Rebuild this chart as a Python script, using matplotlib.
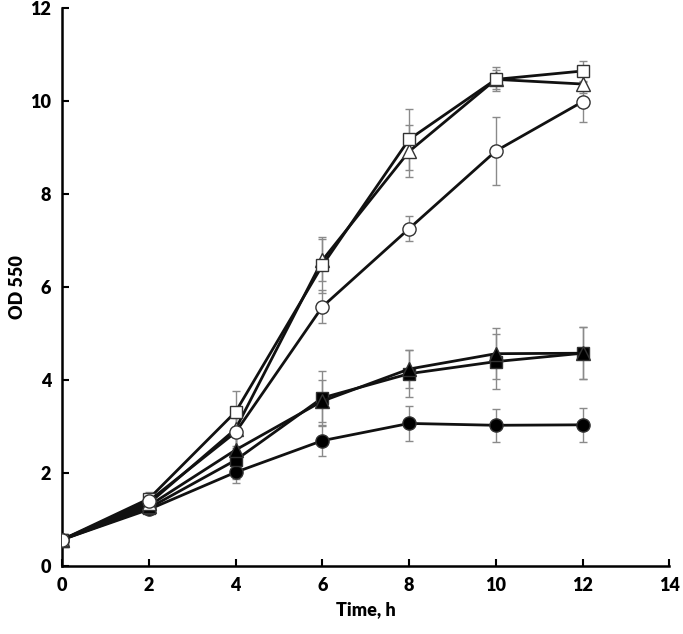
import matplotlib.pyplot as plt

time_h = [0, 2, 4, 6, 8, 10, 12]

# OD550 readings per strain/condition
open_sq = [0.57, 1.45, 3.32, 6.47, 9.18, 10.47, 10.65]
open_tri = [0.57, 1.35, 2.95, 6.58, 8.92, 10.47, 10.37]
open_circ = [0.57, 1.40, 2.88, 5.58, 7.26, 8.93, 9.99]
fill_sq = [0.57, 1.25, 2.28, 3.62, 4.14, 4.40, 4.58]
fill_tri = [0.57, 1.30, 2.50, 3.55, 4.24, 4.57, 4.58]
fill_circ = [0.57, 1.22, 2.02, 2.70, 3.07, 3.03, 3.04]

# standard deviations
err_open_sq = [0.05, 0.15, 0.45, 0.60, 0.65, 0.26, 0.22]
err_open_tri = [0.05, 0.12, 0.40, 0.45, 0.56, 0.20, 0.20]
err_open_circ = [0.05, 0.12, 0.30, 0.35, 0.27, 0.74, 0.43]
err_fill_sq = [0.05, 0.10, 0.50, 0.58, 0.50, 0.60, 0.56]
err_fill_tri = [0.05, 0.10, 0.45, 0.45, 0.40, 0.55, 0.56]
err_fill_circ = [0.05, 0.10, 0.15, 0.32, 0.38, 0.35, 0.36]

series = [
    (fill_circ, err_fill_circ, 'o', 'black'),
    (fill_sq, err_fill_sq, 's', 'black'),
    (fill_tri, err_fill_tri, '^', 'black'),
    (open_tri, err_open_tri, '^', 'white'),
    (open_sq, err_open_sq, 's', 'white'),
    (open_circ, err_open_circ, 'o', 'white'),
]

plt.rcParams['font.family'] = ['Lato', 'DejaVu Sans']
fig = plt.figure(figsize=(6.83, 6.34), dpi=100)
ax = fig.add_axes([0.091, 0.107, 0.889, 0.880])

for y, e, m, fc in series:
    ax.errorbar(time_h, y, yerr=e, fmt='none', ecolor='#8a8a8a', elinewidth=1,
                capsize=3, capthick=1, zorder=1)
for y, e, m, fc in series:
    ms = 9 if m == 's' else 9.5
    ax.plot(time_h, y, color='#111111', lw=2, marker=m, markersize=ms,
            markerfacecolor=fc, markeredgecolor='#333333', markeredgewidth=1,
            zorder=3)

ax.set_xlim(0, 14)
ax.set_ylim(0, 12)
ax.set_xticks(range(0, 15, 2))
ax.set_yticks(range(0, 13, 2))
ax.spines['top'].set_visible(False)
ax.spines['right'].set_visible(False)
ax.spines['left'].set_linewidth(1.8)
ax.spines['bottom'].set_linewidth(1.8)
ax.tick_params(direction='in', length=5, width=1.5, labelsize=13, pad=8)
for lab in ax.get_xticklabels() + ax.get_yticklabels():
    lab.set_fontweight('heavy')
ax.set_xlabel('Time, h', fontsize=13, fontweight='heavy', labelpad=5)
ax.set_ylabel('OD 550', fontsize=13, fontweight='heavy', labelpad=3)

fig.savefig('out.png', dpi=100)
